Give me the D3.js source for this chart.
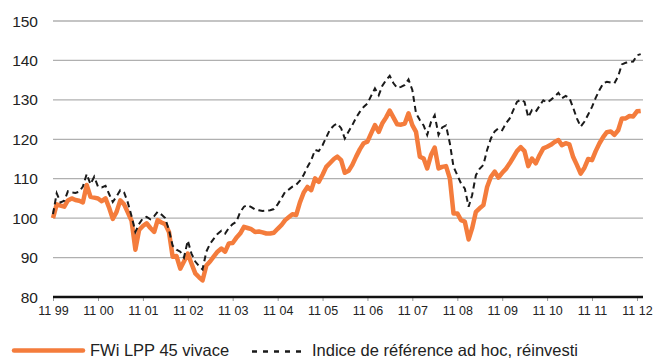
<!DOCTYPE html>
<html><head><meta charset="utf-8">
<script src="https://cdn.jsdelivr.net/npm/d3@7"></script>
<style>body{margin:0;background:#fff;} svg{display:block;font-family:"Liberation Sans",Arial,Helvetica,sans-serif;}</style>
</head><body>
<svg id="c" width="657" height="359"></svg>
<script>
const startYear = 1999, startMonth = 10; // November 1999 (0-based month)
const fund = [100,103.5,103.2,102.9,104.5,105,104.6,104.4,104,108.4,105.4,105.2,105,104.3,105,102.5,99.8,101.6,104.5,103.5,
101.5,99.3,92,97,98,98.7,97.5,96.5,99.5,98.9,98.5,96.5,90.2,90.4,87.2,89,91,88.5,86,85,
84.2,88,89,90.3,91.5,92.3,91.5,93.6,93.7,95,96.1,97.8,97.5,97.2,96.5,96.6,96.4,96.1,96.1,96.3,
97.3,98.2,99.5,100.3,101,100.8,104,106.5,107.9,107.1,110.1,109.2,111,113,114,115,115.6,114.7,111.5,112,
113.5,115.6,117.5,119,119.4,121.5,123.6,121.9,124,125.5,127.3,125.5,123.8,123.7,124,126.6,123.6,121.9,115.6,115.1,
112.6,116,117.9,112.6,113,113.2,110.1,101.2,101.2,99.5,99.1,94.6,97.4,101.6,102.5,103.3,107.9,110.5,111.8,110.3,
111.5,112.5,113.9,115.5,117,118,117,113.2,115.1,113.9,116,117.7,118.1,118.6,119.3,119.8,118.5,119,118.7,115.5,
113.5,111.3,112.8,115,114.7,117,119,120.6,121.8,122,121.1,122.3,125.3,125.3,125.9,125.8,127.1,127.2];
const benchmark = [101,106.3,104,104.4,106.8,106.5,106.4,106.7,108,111.2,108.6,110.5,108,107.8,108.2,106,104.1,105.5,107.1,106.5,
104,100.5,96.5,98.5,100,100.3,99.7,100.5,101.6,100.9,100,97,93,92,91.5,90,94.3,91,89,87.8,
87,91.5,93.5,94.8,96,96.8,96.1,97.5,98.5,99.1,101.5,102.9,103.3,102.8,102.2,102,101.8,101.9,102,102.3,
103.5,105,106.7,107.3,108,108.5,109.5,111,113,114.7,117.3,117,118.5,120.5,122.5,123.5,124,122.8,120.2,122,
123.6,125.5,127,128.2,129.1,131,132.9,131.2,133.5,135,136.1,134.2,133,133.3,133.8,135.2,132.5,126.6,124.9,123.5,
121.1,124.4,126.1,121.1,123,123.5,119,113,110.9,108.8,107.5,102.9,105.8,110.9,112.5,113.5,117.3,120.2,122,122.8,
122.3,124,125.3,127.5,129.5,130.1,129.5,125.6,127.4,127,128.5,129.9,129.3,130,130.8,131.8,130.4,131,130.5,128,
125.3,123.2,124.5,126.3,128.2,130.5,132.5,134.2,134.6,134.4,134.2,136,139,139.4,139.6,139.7,141.3,141.6];
const yTicks = [80,90,100,110,120,130,140,150];
const xTickLabels = ["11 99","11 00","11 01","11 02","11 03","11 04","11 05","11 06","11 07","11 08","11 09","11 10","11 11","11 12"];
const seriesNames = ["FWi LPP 45 vivace","Indice de référence ad hoc, réinvesti"];

(function(){
const svg = d3.select("#c");
const mLeft = 53, mRight = 643, mTop = 21, mBottom = 297;
const dates = fund.map((_, i) => new Date(startYear, startMonth + i, 1));
const tickDates = xTickLabels.map((_, i) => new Date(startYear + i, startMonth, 1));
const x = d3.scaleTime().domain([tickDates[0], tickDates[tickDates.length-1]]).range([mLeft, 637]);
const y = d3.scaleLinear().domain([80,150]).range([mBottom, mTop]);

svg.append("g").selectAll("line").data(yTicks.filter(v => v > 80)).join("line")
  .attr("x1", mLeft).attr("x2", mRight).attr("y1", d => y(d)).attr("y2", d => y(d))
  .attr("stroke", "#b0b0b0").attr("stroke-width", 1.3);

svg.append("g").selectAll("text").data(yTicks).join("text")
  .attr("x", 38).attr("y", d => y(d)).attr("dy", "0.36em").attr("text-anchor", "end")
  .attr("font-size", 15.5).attr("fill", "#222").text(d => d);

const xAxis = d3.axisBottom(x).tickValues(tickDates).tickFormat((d, i) => xTickLabels[i]).tickSize(4).tickPadding(5);
const gx = svg.append("g").attr("transform", `translate(0,${mBottom})`).call(xAxis)
  .attr("font-size", 12.5).attr("font-family", "Liberation Sans, Arial, sans-serif");
gx.select(".domain").remove();
gx.selectAll(".tick line").attr("stroke", "#999").attr("stroke-width", 1);
gx.selectAll(".tick text").attr("fill", "#222");
svg.append("line").attr("x1", mLeft).attr("x2", mRight).attr("y1", mBottom).attr("y2", mBottom)
  .attr("stroke", "#111").attr("stroke-width", 2.6);

const line = d3.line().x((d, i) => x(dates[i])).y(d => y(d));
svg.append("path").datum(fund).attr("d", line).attr("fill", "none")
  .attr("stroke", "#F47C3C").attr("stroke-width", 4.5).attr("stroke-linejoin", "round");
svg.append("path").datum(benchmark).attr("d", line).attr("fill", "none")
  .attr("stroke", "#1a1a1a").attr("stroke-width", 2).attr("stroke-dasharray", "6,4");

const ly = 350.5;
const tb = 355.5;
svg.append("line").attr("x1", 14).attr("x2", 83).attr("y1", ly).attr("y2", ly)
  .attr("stroke", "#F47C3C").attr("stroke-width", 4.5).attr("stroke-linecap", "round");
svg.append("text").attr("x", 90).attr("y", tb).attr("font-size", 16.5).attr("fill", "#222").text(seriesNames[0]);
svg.append("line").attr("x1", 252).attr("x2", 304).attr("y1", ly + 1).attr("y2", ly + 1)
  .attr("stroke", "#1a1a1a").attr("stroke-width", 2.5).attr("stroke-dasharray", "5,6");
svg.append("text").attr("x", 312).attr("y", tb).attr("font-size", 16.5).attr("fill", "#222").text(seriesNames[1]);
})();
</script>
</body></html>
